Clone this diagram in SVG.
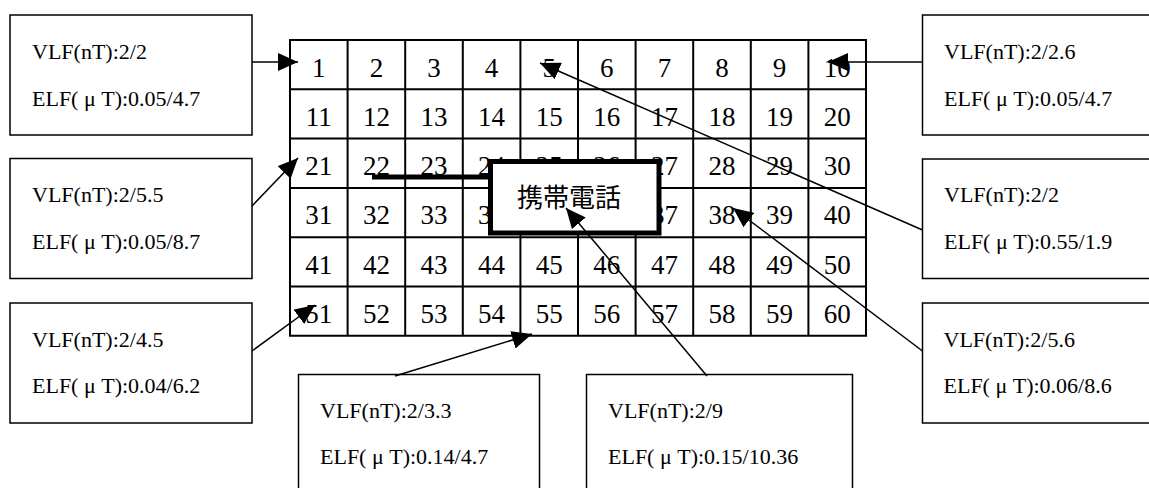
<svg xmlns="http://www.w3.org/2000/svg" width="1149" height="488" viewBox="0 0 1149 488">
<style>
.bg{fill:#fff}
.box{fill:#fff;stroke:#000;stroke-width:1.5}
.lbl{font-family:"Liberation Serif",serif;font-size:22px;fill:#000}
.num{font-family:"Liberation Serif",serif;font-size:27px;fill:#000;text-anchor:middle}
.grid{fill:none;stroke:#000;stroke-width:2}
.conn{fill:none;stroke:#000;stroke-width:1.5;marker-end:url(#ah)}
.phone{fill:#fff;stroke:#000;stroke-width:5}
.cjk{font-family:"Noto Sans CJK JP","Noto Sans CJK SC",sans-serif;font-size:26px;fill:#000;text-anchor:middle}
</style>
<defs>
<marker id="ah" markerUnits="userSpaceOnUse" viewBox="0 0 20 18" refX="20" refY="9" markerWidth="20" markerHeight="18" orient="auto">
<path d="M0,0 L20,9 L0,18 z" fill="#000"/>
</marker>
</defs>
<rect class="bg" x="0" y="0" width="1149" height="488"/>
<g id="grid">
<path class="grid" d="M290,40 H866 V335.8 H290 Z M290,89.3 H866 M290,138.6 H866 M290,187.9 H866 M290,237.2 H866 M290,286.5 H866 M347.6,40 V335.8 M405.2,40 V335.8 M462.8,40 V335.8 M520.4,40 V335.8 M578,40 V335.8 M635.6,40 V335.8 M693.2,40 V335.8 M750.8,40 V335.8 M808.4,40 V335.8"/>
<g>
<text class="num" x="318.8" y="76.5">1</text><text class="num" x="376.4" y="76.5">2</text><text class="num" x="434" y="76.5">3</text><text class="num" x="491.6" y="76.5">4</text><text class="num" x="549.2" y="76.5">5</text><text class="num" x="606.8" y="76.5">6</text><text class="num" x="664.4" y="76.5">7</text><text class="num" x="722" y="76.5">8</text><text class="num" x="779.6" y="76.5">9</text><text class="num" x="837.2" y="76.5">10</text>
<text class="num" x="318.8" y="125.8">11</text><text class="num" x="376.4" y="125.8">12</text><text class="num" x="434" y="125.8">13</text><text class="num" x="491.6" y="125.8">14</text><text class="num" x="549.2" y="125.8">15</text><text class="num" x="606.8" y="125.8">16</text><text class="num" x="664.4" y="125.8">17</text><text class="num" x="722" y="125.8">18</text><text class="num" x="779.6" y="125.8">19</text><text class="num" x="837.2" y="125.8">20</text>
<text class="num" x="318.8" y="175.1">21</text><text class="num" x="376.4" y="175.1">22</text><text class="num" x="434" y="175.1">23</text><text class="num" x="491.6" y="175.1">24</text><text class="num" x="549.2" y="175.1">25</text><text class="num" x="606.8" y="175.1">26</text><text class="num" x="664.4" y="175.1">27</text><text class="num" x="722" y="175.1">28</text><text class="num" x="779.6" y="175.1">29</text><text class="num" x="837.2" y="175.1">30</text>
<text class="num" x="318.8" y="224.4">31</text><text class="num" x="376.4" y="224.4">32</text><text class="num" x="434" y="224.4">33</text><text class="num" x="491.6" y="224.4">34</text><text class="num" x="664.4" y="224.4">37</text><text class="num" x="722" y="224.4">38</text><text class="num" x="779.6" y="224.4">39</text><text class="num" x="837.2" y="224.4">40</text>
<text class="num" x="318.8" y="273.7">41</text><text class="num" x="376.4" y="273.7">42</text><text class="num" x="434" y="273.7">43</text><text class="num" x="491.6" y="273.7">44</text><text class="num" x="549.2" y="273.7">45</text><text class="num" x="606.8" y="273.7">46</text><text class="num" x="664.4" y="273.7">47</text><text class="num" x="722" y="273.7">48</text><text class="num" x="779.6" y="273.7">49</text><text class="num" x="837.2" y="273.7">50</text>
<text class="num" x="318.8" y="323">51</text><text class="num" x="376.4" y="323">52</text><text class="num" x="434" y="323">53</text><text class="num" x="491.6" y="323">54</text><text class="num" x="549.2" y="323">55</text><text class="num" x="606.8" y="323">56</text><text class="num" x="664.4" y="323">57</text><text class="num" x="722" y="323">58</text><text class="num" x="779.6" y="323">59</text><text class="num" x="837.2" y="323">60</text>
</g>
</g>
<g id="phone">
<rect class="phone" x="490.5" y="161.5" width="168.5" height="71.5"/>
<text class="cjk" x="569" y="207">携帯電話</text>
<line x1="372" y1="177" x2="490" y2="177" stroke="#000" stroke-width="5"/>
</g>
<g id="box-tl">
<rect class="box" x="10" y="15" width="242" height="120"/>
<text class="lbl" x="32" y="58.5">VLF(nT):2/2</text>
<text class="lbl" x="32" y="105.5">ELF( μ T):0.05/4.7</text>
</g>
<g id="box-ml">
<rect class="box" x="10" y="158.5" width="242" height="120"/>
<text class="lbl" x="32" y="202">VLF(nT):2/5.5</text>
<text class="lbl" x="32" y="249">ELF( μ T):0.05/8.7</text>
</g>
<g id="box-bl">
<rect class="box" x="10" y="303" width="242" height="120"/>
<text class="lbl" x="32" y="346.5">VLF(nT):2/4.5</text>
<text class="lbl" x="32" y="393">ELF( μ T):0.04/6.2</text>
</g>
<g id="box-tr">
<rect class="box" x="922.5" y="15" width="240" height="120"/>
<text class="lbl" x="944" y="58.5">VLF(nT):2/2.6</text>
<text class="lbl" x="944" y="105.5">ELF( μ T):0.05/4.7</text>
</g>
<g id="box-mr">
<rect class="box" x="922.5" y="159" width="240" height="119.5"/>
<text class="lbl" x="944" y="202">VLF(nT):2/2</text>
<text class="lbl" x="944" y="249">ELF( μ T):0.55/1.9</text>
</g>
<g id="box-br">
<rect class="box" x="922.5" y="303" width="240" height="120"/>
<text class="lbl" x="943.5" y="346.5">VLF(nT):2/5.6</text>
<text class="lbl" x="943.5" y="393">ELF( μ T):0.06/8.6</text>
</g>
<g id="box-b1">
<rect class="box" x="298.5" y="374.5" width="241" height="130"/>
<text class="lbl" x="320" y="418">VLF(nT):2/3.3</text>
<text class="lbl" x="320" y="463.5">ELF( μ T):0.14/4.7</text>
</g>
<g id="box-b2">
<rect class="box" x="586.5" y="374.5" width="266" height="130"/>
<text class="lbl" x="608" y="418">VLF(nT):2/9</text>
<text class="lbl" x="608" y="463.5">ELF( μ T):0.15/10.36</text>
</g>
<g id="connectors">
<line class="conn" x1="252" y1="62" x2="298" y2="62"/>
<line class="conn" x1="923" y1="62" x2="828" y2="62"/>
<line class="conn" x1="252" y1="206" x2="298" y2="158"/>
<line class="conn" x1="922.5" y1="230" x2="540" y2="63"/>
<line class="conn" x1="252" y1="351" x2="315" y2="305"/>
<line class="conn" x1="922.5" y1="351" x2="733" y2="208"/>
<line class="conn" x1="395" y1="376" x2="532" y2="334"/>
<line class="conn" x1="707" y1="376" x2="566" y2="208"/>
</g>
</svg>
